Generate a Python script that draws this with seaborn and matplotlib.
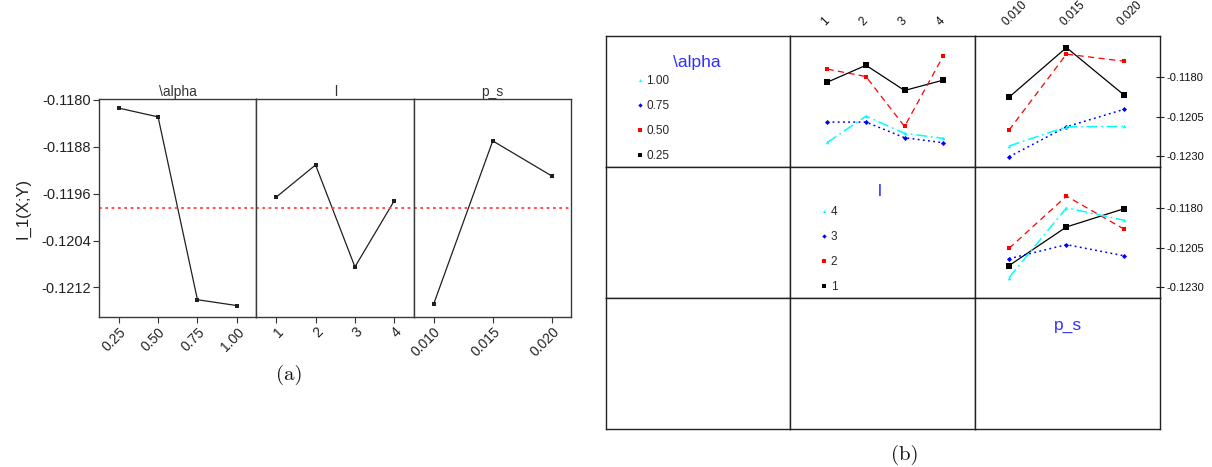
import numpy as np
import pandas as pd
import matplotlib
matplotlib.use("Agg")
import matplotlib.pyplot as plt
from matplotlib.lines import Line2D
import seaborn as sns

sns.set_theme(style="white")
plt.rcParams['font.family'] = ['Liberation Sans', 'DejaVu Sans']

# ---- factor levels -------------------------------------------------------
alpha_levels = ["0.25", "0.50", "0.75", "1.00"]
l_levels = ["1", "2", "3", "4"]
ps_levels = ["0.010", "0.015", "0.020"]

# ---- main effects on I_1(X;Y) --------------------------------------------
alpha_means = [-0.11814, -0.11829, -0.12141, -0.12151]
l_means = [-0.11966, -0.11911, -0.12085, -0.11972]
ps_means = [-0.12149, -0.11870, -0.11930]
grand_mean = -0.11984

# ---- two-way interactions ------------------------------------------------
# alpha x l  (one list per alpha level, values over l = 1..4)
alpha_l_025 = [-0.11830, -0.11722, -0.11883, -0.11817]
alpha_l_050 = [-0.11747, -0.11794, -0.12113, -0.11664]
alpha_l_075 = [-0.12085, -0.12085, -0.12185, -0.12217]
alpha_l_100 = [-0.12215, -0.12047, -0.12157, -0.12189]

# alpha x p_s  (one list per alpha level, values over p_s)
alpha_ps_025 = [-0.11926, -0.11609, -0.11911]
alpha_ps_050 = [-0.12136, -0.11651, -0.11696]
alpha_ps_075 = [-0.12307, -0.12115, -0.12004]
alpha_ps_100 = [-0.12238, -0.12115, -0.12113]

# l x p_s  (one list per l level, values over p_s)
l_ps_1 = [-0.12165, -0.11918, -0.11802]
l_ps_2 = [-0.12055, -0.11721, -0.11931]
l_ps_3 = [-0.12121, -0.12031, -0.12102]
l_ps_4 = [-0.12242, -0.11796, -0.11875]

right_ticks = [-0.1180, -0.1205, -0.1230]
left_ticks = [-0.1180, -0.1188, -0.1196, -0.1204, -0.1212]

W, H = 1212, 467
fig = plt.figure(figsize=(W / 100, H / 100), dpi=100)


def fx(px):
    return px / W


def fy(py):
    return 1 - py / H


# ======================= (a) main-effects plot ============================
gs_a = fig.add_gridspec(1, 3, left=fx(99), right=fx(571.5),
                        top=fy(99.3), bottom=fy(316.7), wspace=0)
axes_a = [fig.add_subplot(gs_a[0, i]) for i in range(3)]

main_effects = [
    (alpha_levels, alpha_means, "\\alpha", (-0.5, 3.5)),
    (l_levels, l_means, "l", (-0.5, 3.5)),
    (ps_levels, ps_means, "p_s", (-0.33, 2.33)),
]
ylim_a = (-0.12170, -0.11799)

for i, (ax, (levels, means, title, xlim)) in enumerate(zip(axes_a, main_effects)):
    df = pd.DataFrame({"level": levels, "value": means})
    sns.pointplot(data=df, x="level", y="value", order=levels, color="#202020",
                  markers="s", linestyles="-", errorbar=None, ax=ax,
                  markersize=3.2, linewidth=0.9, markeredgewidth=0)
    ax.axhline(grand_mean, color="#ff4040", lw=1.3, ls=(0, (1.5, 2.0)))
    ax.set_xlim(*xlim)
    ax.set_ylim(*ylim_a)
    ax.set_xlabel("")
    ax.set_ylabel("")
    ax.set_title(title, fontsize=10, color="#333333", pad=2.5)
    for sp in ax.spines.values():
        sp.set_color("#3a3a3a")
        sp.set_linewidth(1.0)
    ax.tick_params(axis="x", bottom=True, direction="out", length=4, width=0.8,
                   color="#333333", labelsize=10, pad=2, labelcolor="#222222")
    for lab in ax.get_xticklabels():
        lab.set_rotation(45)
        lab.set_ha("right")
        lab.set_rotation_mode("anchor")
    if i == 0:
        ax.set_yticks(left_ticks)
        ax.set_yticklabels([f"{t:.4f}" for t in left_ticks])
        ax.tick_params(axis="y", left=True, direction="out", length=4, width=0.8,
                       color="#333333", labelsize=10.5, pad=2, labelcolor="#222222")
        ax.set_ylabel("I_1(X;Y)", fontsize=12, color="#222222")
        ax.yaxis.set_label_coords(-0.435, 0.5)
    else:
        ax.set_yticks([])

fig.text(fx(289), fy(375), "(a)", ha="center", va="center",
         family="cmr10", fontsize=15, color="#111111")

# ======================= (b) interaction matrix ===========================
gs_b = fig.add_gridspec(3, 3, left=fx(605.5), right=fx(1160),
                        top=fy(36), bottom=fy(429), wspace=0, hspace=0)
cells = [[fig.add_subplot(gs_b[r, c]) for c in range(3)] for r in range(3)]

series_styles = [
    dict(color="black", marker="s", linestyle="-", markersize=4.0, linewidth=0.9),
    dict(color="red", marker="s", linestyle=(0, (5, 3.5)), markersize=2.6, linewidth=0.9),
    dict(color="blue", marker="D", linestyle=(0, (1.2, 2.2)), markersize=2.6, linewidth=1.1),
    dict(color="cyan", marker="^", linestyle=(0, (7, 2.5, 1.2, 2.5)), markersize=2.6, linewidth=1.1),
]

ylim_b = (-0.12372, -0.11535)

for row in cells:
    for ax in row:
        for sp in ax.spines.values():
            sp.set_color("#222222")
            sp.set_linewidth(1.0)


def draw_interaction(ax, levels, series, xlim):
    for values, st in zip(series, series_styles):
        df = pd.DataFrame({"level": levels, "value": values})
        sns.pointplot(data=df, x="level", y="value", order=levels,
                      color=st["color"], markers=st["marker"],
                      linestyle=st["linestyle"], errorbar=None, ax=ax,
                      markersize=st["markersize"], linewidth=st["linewidth"],
                      markeredgewidth=0)
    ax.set_xlim(*xlim)
    ax.set_ylim(*ylim_b)
    ax.set_xlabel("")
    ax.set_ylabel("")


draw_interaction(cells[0][1], l_levels,
                 [alpha_l_025, alpha_l_050, alpha_l_075, alpha_l_100], (-0.96, 3.83))
draw_interaction(cells[0][2], ps_levels,
                 [alpha_ps_025, alpha_ps_050, alpha_ps_075, alpha_ps_100], (-0.59, 2.63))
draw_interaction(cells[1][2], ps_levels,
                 [l_ps_1, l_ps_2, l_ps_3, l_ps_4], (-0.59, 2.63))

# clear all ticks, then add back the ones on the outer edges
for row in cells:
    for ax in row:
        ax.set_xticks([])
        ax.set_yticks([])

# level labels along the top edge
for ax, levels in ((cells[0][1], l_levels), (cells[0][2], ps_levels)):
    ax.set_xticks(range(len(levels)))
    ax.set_xticklabels(levels)
    ax.xaxis.tick_top()
    ax.tick_params(axis="x", top=True, bottom=False, labeltop=True,
                   labelbottom=False, length=0, pad=6, labelsize=8.5,
                   labelcolor="#111111")
    for lab in ax.get_xticklabels():
        lab.set_rotation(45)
        lab.set_ha("left")
        lab.set_va("bottom")
        lab.set_rotation_mode("anchor")

# response scale on the right edge
for ax in (cells[0][2], cells[1][2]):
    ax.set_yticks(right_ticks)
    ax.set_yticklabels([f"{t:.4f}" for t in right_ticks])
    ax.yaxis.tick_right()
    ax.tick_params(axis="y", right=True, left=False, direction="inout",
                   length=6, width=0.8, color="#222222", labelsize=8,
                   pad=2, labelcolor="#111111")

# factor names and level keys on the diagonal
title_color = "#3030ff"


def level_key(ax, labels, title, tx, ty):
    handles = [Line2D([], [], color=st["color"], marker=st["marker"], linestyle="none",
                      markersize=st["markersize"] * 0.85, markeredgewidth=0)
               for st in series_styles]
    handles = handles[::-1]
    ax.legend(handles, labels[::-1], loc="upper left", bbox_to_anchor=(0.165, 0.70),
              frameon=False, handlelength=0.6, handletextpad=0.25,
              labelspacing=1.1, borderpad=0, borderaxespad=0, fontsize=8.5)
    ax.text(tx, ty, title, transform=ax.transAxes, ha="center", va="center",
            fontsize=12.5, color=title_color)


level_key(cells[0][0], alpha_levels, "\\alpha", 0.495, 0.80)
level_key(cells[1][1], l_levels, "l", 0.485, 0.81)
cells[2][2].text(0.50, 0.79, "p_s", transform=cells[2][2].transAxes,
                 ha="center", va="center", fontsize=12.5, color=title_color)

fig.text(fx(905), fy(455), "(b)", ha="center", va="center",
         family="cmr10", fontsize=15, color="#111111")

fig.savefig("out.png", dpi=100, facecolor="white")
